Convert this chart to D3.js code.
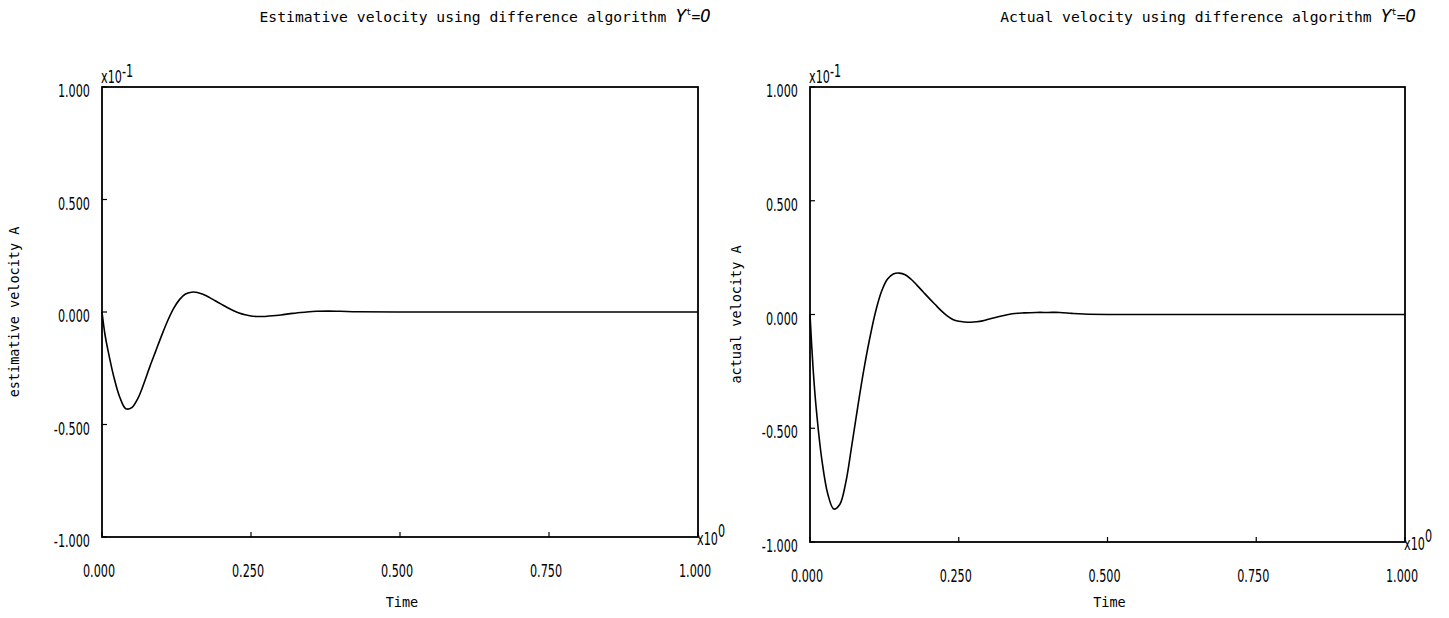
<!DOCTYPE html>
<html>
<head>
<meta charset="utf-8">
<script src="https://cdn.jsdelivr.net/npm/d3@7"></script>
<style>
body { margin:0; background:#fff; }
text { fill:#000; }
.tick-lab { font-family:"DejaVu Sans",sans-serif; font-size:17px; }
.title { font-family:"DejaVu Sans Mono",monospace; font-size:14.7px; }
.lab { font-family:"DejaVu Sans Mono",monospace; font-size:13.5px; }
</style>
</head>
<body>
<script>
var W = 1449, H = 618;

// time axis (x10^0) and velocity values (x10^-1)
var timeEst = [0,0.005,0.01,0.02,0.03,0.04,0.05,0.06,0.07,0.08,0.09,0.10,0.11,0.12,0.13,0.14,0.15,0.16,0.17,0.18,0.19,0.20,0.21,0.22,0.23,0.24,0.25,0.26,0.27,0.28,0.30,0.32,0.34,0.36,0.38,0.40,0.43,0.50,0.60,0.70,0.80,0.90,1.00];
var velEst = [0,-0.10,-0.17,-0.29,-0.38,-0.43,-0.425,-0.385,-0.32,-0.245,-0.175,-0.105,-0.04,0.015,0.055,0.08,0.088,0.087,0.078,0.065,0.05,0.035,0.02,0.007,-0.004,-0.012,-0.018,-0.02,-0.02,-0.018,-0.013,-0.006,-0.001,0.003,0.004,0.003,0.001,0,0,0,0,0,0];

var timeAct = [0,0.005,0.01,0.02,0.03,0.04,0.05,0.06,0.07,0.08,0.09,0.10,0.11,0.12,0.13,0.14,0.15,0.16,0.17,0.18,0.19,0.20,0.21,0.22,0.23,0.24,0.25,0.26,0.27,0.28,0.29,0.30,0.32,0.34,0.36,0.38,0.40,0.42,0.44,0.46,0.50,0.60,0.70,0.80,0.90,1.00];
var velAct = [0,-0.23,-0.40,-0.64,-0.79,-0.855,-0.835,-0.74,-0.58,-0.41,-0.25,-0.11,0.01,0.10,0.155,0.178,0.182,0.175,0.155,0.128,0.10,0.072,0.045,0.018,-0.005,-0.022,-0.030,-0.033,-0.034,-0.032,-0.028,-0.021,-0.008,0.003,0.007,0.009,0.009,0.009,0.005,0.002,0,0,0,0,0,0];

var xTicks = [0, 0.25, 0.5, 0.75, 1.0];
var yTicks = [1.0, 0.5, 0, -0.5, -1.0];

var fmt = function(d) { return d3.format(".3f")(d).replace("\u2212", "-"); };
var SX = 0.66;

var svg = d3.select("body").append("svg")
  .attr("width", W).attr("height", H);

function narrow(g, x, y, anchor) {
  return g.append("text").attr("class", "tick-lab")
    .attr("text-anchor", anchor)
    .attr("transform", "translate(" + x + "," + y + ") scale(" + SX + ",1.08)");
}

function panel(opt) {
  var x = d3.scaleLinear().domain([0, 1]).range([opt.x0, opt.x1]);
  var y = d3.scaleLinear().domain([-1, 1]).range([opt.y1, opt.y0]);
  var g = svg.append("g");

  // frame
  g.append("rect")
    .attr("x", opt.x0).attr("y", opt.y0)
    .attr("width", opt.x1 - opt.x0).attr("height", opt.y1 - opt.y0)
    .attr("fill", "none").attr("stroke", "#000").attr("stroke-width", 1.8);

  // ticks pointing inward
  g.selectAll(".xt").data(xTicks).enter().append("line")
    .attr("x1", function(d){ return x(d); }).attr("x2", function(d){ return x(d); })
    .attr("y1", opt.y1).attr("y2", opt.y1 - 5)
    .attr("stroke", "#000").attr("stroke-width", 1.2);
  g.selectAll(".yt").data(yTicks).enter().append("line")
    .attr("x1", opt.x0).attr("x2", opt.x0 + 5)
    .attr("y1", function(d){ return y(d); }).attr("y2", function(d){ return y(d); })
    .attr("stroke", "#000").attr("stroke-width", 1.2);

  // tick labels
  xTicks.forEach(function(d) {
    narrow(g, x(d) - 3, opt.y1 + 40, "middle").text(fmt(d));
  });
  yTicks.forEach(function(d) {
    narrow(g, opt.x0 - 12, y(d) + 10, "end").text(fmt(d));
  });

  // exponent markers
  var e1 = narrow(g, opt.x0 - 1, opt.y0 - 4, "start");
  e1.append("tspan").text("x10");
  e1.append("tspan").attr("dy", -6).text("-1");
  var e0 = narrow(g, opt.x1 - 1, opt.y1 + 8, "start");
  e0.append("tspan").text("x10");
  e0.append("tspan").attr("dy", -7).text("0");

  // curve
  var pts = opt.t.map(function(d, i){ return [d, opt.v[i]]; });
  g.append("path")
    .datum(pts)
    .attr("fill", "none").attr("stroke", "#000").attr("stroke-width", 1.6)
    .attr("d", d3.line().curve(d3.curveCatmullRom.alpha(0.5))
      .x(function(d){ return x(d[0]); })
      .y(function(d){ return y(d[1]); }));

  // axis titles
  g.append("text").attr("class", "lab")
    .attr("x", (opt.x0 + opt.x1) / 2 + 2).attr("y", 607)
    .attr("text-anchor", "middle").text("Time");
  g.append("text").attr("class", "lab")
    .attr("transform", "translate(" + opt.ylx + "," + y(0) + ") rotate(-90)")
    .attr("text-anchor", "middle").text(opt.ylab);

  // title
  var t = g.append("text").attr("class", "title")
    .attr("x", opt.tx).attr("y", 22).attr("text-anchor", "middle");
  t.append("tspan").text(opt.title + " ");
  t.append("tspan").attr("font-style", "italic").attr("font-size", 18).text("Y");
  t.append("tspan").attr("font-size", 9).attr("dy", -7).text("t");
  t.append("tspan").attr("dy", 7).text("=");
  t.append("tspan").attr("font-style", "italic").attr("font-size", 17).text("O");
}

panel({ x0:102, x1:698, y0:87, y1:537, t:timeEst, v:velEst,
  title:"Estimative velocity using difference algorithm", tx:485,
  ylab:"estimative velocity A", ylx:19 });
panel({ x0:810, x1:1405, y0:87, y1:542, t:timeAct, v:velAct,
  title:"Actual velocity using difference algorithm ", tx:1208,
  ylab:"actual velocity A", ylx:741 });
</script>
</body>
</html>
